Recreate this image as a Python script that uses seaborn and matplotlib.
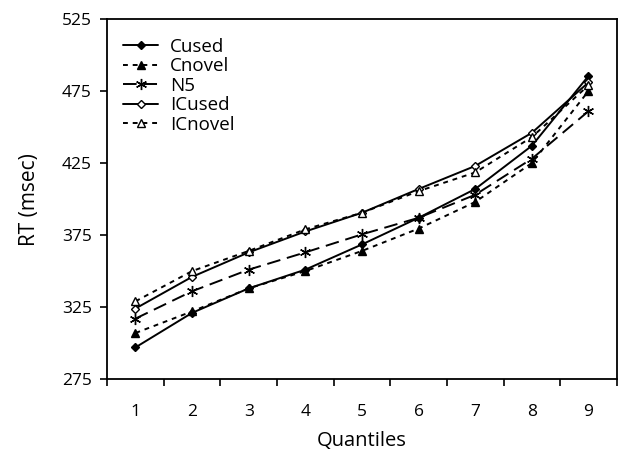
import matplotlib
matplotlib.use("Agg")
import matplotlib.pyplot as plt
import seaborn as sns
import pandas as pd
import numpy as np

quantiles = [1, 2, 3, 4, 5, 6, 7, 8, 9]
cused = [297, 321, 338, 351, 368.5, 387, 407, 437, 485.5]
cnovel = [307, 322, 338, 350, 364, 379.5, 398, 425, 475]
n5 = [317, 336, 351, 363, 375.5, 387, 403, 428, 461]
icused = [324, 346, 363, 377.5, 390.5, 407, 423, 446, 481]
icnovel = [329, 350, 364, 379, 390.5, 405.5, 418.5, 443, 479]
yticks = [275, 325, 375, 425, 475, 525]

series = {"Cused": cused, "Cnovel": cnovel, "N5": n5, "ICused": icused, "ICnovel": icnovel}
df = pd.DataFrame([{"Quantile": q, "RT": v, "cond": name}
                   for name, vals in series.items() for q, v in zip(quantiles, vals)])

sns.set_style("white")
plt.rcParams["font.family"] = ["Open Sans", "DejaVu Sans"]
plt.rcParams["text.color"] = "black"
plt.rcParams["axes.labelcolor"] = "black"
plt.rcParams["xtick.color"] = "black"
plt.rcParams["ytick.color"] = "black"

fig = plt.figure(figsize=(6.23, 4.54), dpi=100)
ax = fig.add_axes([0.172, 0.165, 0.818, 0.793])

styles = {
    "Cused": dict(ls="-", marker="D", mfc="black", ms=4.5, dashes=None),
    "Cnovel": dict(ls="--", marker="^", mfc="black", ms=5.5, dashes=(2.5, 2.5)),
    "N5": dict(ls="--", marker=(6, 2, 0), mfc="black", ms=8, dashes=(7, 3.5)),
    "ICused": dict(ls="-", marker="D", mfc="white", ms=4.5, dashes=None),
    "ICnovel": dict(ls="--", marker="^", mfc="white", ms=5.5, dashes=(2.5, 2.5)),
}

for name in series:
    st = styles[name]
    sub = df[df["cond"] == name]
    sns.lineplot(data=sub, x="Quantile", y="RT", ax=ax, color="black", lw=1.4,
                 marker=st["marker"], markersize=st["ms"], markerfacecolor=st["mfc"],
                 markeredgecolor="black", markeredgewidth=1.0, label=name)
    line = ax.lines[-1]
    line.set_linestyle(st["ls"])
    if st["dashes"] is not None:
        line.set_dashes(st["dashes"])

ax.set_xlim(0.5, 9.5)
ax.set_ylim(275, 525)
ax.set_yticks(yticks)
ax.set_xticks(np.arange(0.5, 10, 1))
ax.set_xticklabels([])
ax.set_xticks(quantiles, minor=True)
ax.set_xticklabels([str(q) for q in quantiles], minor=True)
ax.tick_params(axis="x", which="minor", length=0, labelsize=12.5, pad=18)
ax.tick_params(axis="x", which="major", length=5, width=1.2, direction="out", color="black")
ax.tick_params(axis="y", length=5, width=1.2, direction="out", labelsize=12.5, pad=6, color="black")
ax.tick_params(bottom=True, left=True)
for s in ax.spines.values():
    s.set_color("black")
    s.set_linewidth(1.3)
ax.set_xlabel("Quantiles", fontsize=14.5, labelpad=8)
ax.set_ylabel("RT (msec)", fontsize=15, labelpad=16)

leg = ax.legend(loc="upper left", frameon=False, fontsize=13.5, handlelength=1.9,
                labelspacing=0.08, borderaxespad=0.3, handletextpad=0.6,
                bbox_to_anchor=(0.005, 0.985))

fig.savefig("out.png", dpi=100)
